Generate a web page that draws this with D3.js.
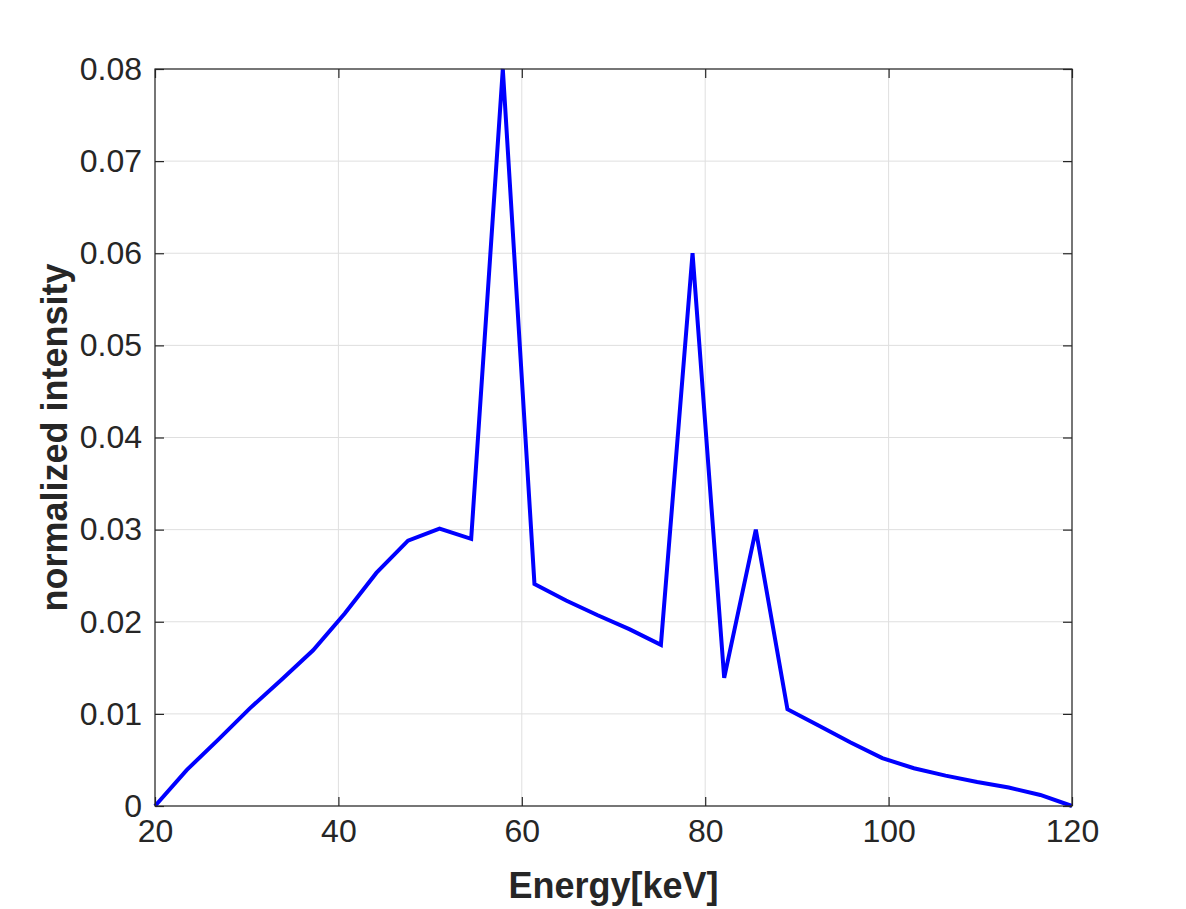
<!DOCTYPE html>
<html><head><meta charset="utf-8">
<script src="https://cdn.jsdelivr.net/npm/d3@7/dist/d3.min.js"></script>
<style>body{margin:0;background:#fff}svg{display:block}</style>
</head><body>
<svg id="c" width="1186" height="909"></svg>
<script>
const energy = [20,23.45,26.9,30.34,33.79,37.24,40.69,44.14,47.59,51.03,54.48,57.93,61.38,64.83,68.28,71.72,75.17,78.62,82.07,85.52,88.97,92.41,95.86,99.31,102.76,106.21,109.66,113.1,116.55,120];
const intensity = [0,0.0039,0.0072,0.0106,0.0137,0.0169,0.0209,0.0253,0.0288,0.0301,0.0290,0.0800,0.0241,0.0223,0.0207,0.0192,0.0175,0.0600,0.0139,0.0300,0.0105,0.0087,0.0069,0.0052,0.0041,0.0033,0.0026,0.0020,0.0012,0];
const xTicks = [20,40,60,80,100,120];
const yTicks = [0,0.01,0.02,0.03,0.04,0.05,0.06,0.07,0.08];

const svg = d3.select('#c');
const L=155,R=1072,T=69,B=806;
const x = d3.scaleLinear().domain([20,120]).range([L,R]);
const y = d3.scaleLinear().domain([0,0.08]).range([B,T]);
const font = '"Liberation Sans", Arial, Helvetica, sans-serif';
const axCol = '#262626';

// grid
const g = svg.append('g');
g.selectAll('.gx').data(xTicks).enter().append('line')
  .attr('x1',d=>x(d)).attr('x2',d=>x(d)).attr('y1',T).attr('y2',B)
  .attr('stroke','#dfdfdf').attr('stroke-width',1);
g.selectAll('.gy').data(yTicks).enter().append('line')
  .attr('y1',d=>y(d)).attr('y2',d=>y(d)).attr('x1',L).attr('x2',R)
  .attr('stroke','#dfdfdf').attr('stroke-width',1);

// line
svg.append('path').datum(energy.map((e,i)=>[e,intensity[i]]))
  .attr('d', d3.line().x(d=>x(d[0])).y(d=>y(d[1])))
  .attr('fill','none').attr('stroke','#0000ff').attr('stroke-width',4)
  .attr('stroke-linejoin','miter');

// axes
const xb = d3.axisBottom(x).tickValues(xTicks).tickSize(-9).tickPadding(13).tickFormat(d3.format('d'));
const xt = d3.axisTop(x).tickValues(xTicks).tickSize(-9).tickFormat('');
const yl = d3.axisLeft(y).tickValues(yTicks).tickSize(-9).tickPadding(13).tickFormat(d=>d===0?'0':d3.format('.2f')(d));
const yr = d3.axisRight(y).tickValues(yTicks).tickSize(-9).tickFormat('');
function style(sel){
  sel.selectAll('path').attr('stroke',axCol).attr('stroke-width',1.2);
  sel.selectAll('line').attr('stroke',axCol).attr('stroke-width',1.2);
  sel.selectAll('text').attr('fill',axCol).style('font-family',font).style('font-size','32px');
}
svg.append('g').attr('transform',`translate(0,${B})`).call(xb).call(style);
svg.append('g').attr('transform',`translate(0,${T})`).call(xt).call(style);
svg.append('g').attr('transform',`translate(${L},0)`).call(yl).call(style);
svg.append('g').attr('transform',`translate(${R},0)`).call(yr).call(style);
svg.selectAll('.domain').attr('d',null);
svg.append('rect').attr('x',L).attr('y',T).attr('width',R-L).attr('height',B-T)
  .attr('fill','none').attr('stroke',axCol).attr('stroke-width',1.2);

svg.append('text').attr('x',(L+R)/2).attr('y',898).attr('text-anchor','middle')
  .attr('fill',axCol).style('font-family',font).style('font-size','36px').style('font-weight','bold')
  .text('Energy[keV]');
svg.append('text').attr('transform',`translate(67,${(T+B)/2}) rotate(-90)`).attr('text-anchor','middle')
  .attr('fill',axCol).style('font-family',font).style('font-size','36px').style('font-weight','bold')
  .text('normalized intensity');
</script>
</body></html>
